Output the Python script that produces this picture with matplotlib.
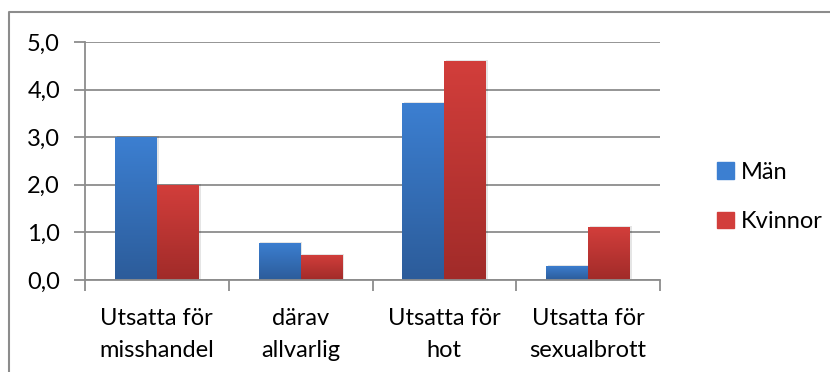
import numpy as np
import matplotlib
matplotlib.use("Agg")
from matplotlib import pyplot as plt
from matplotlib.ticker import FuncFormatter, FixedLocator
from matplotlib.colors import LinearSegmentedColormap
from matplotlib.lines import Line2D

plt.rcParams['font.family'] = ['Lato', 'DejaVu Sans']

categories = ["Utsatta för\nmisshandel", "därav\nallvarlig", "Utsatta för\nhot", "Utsatta för\nsexualbrott"]
man = [3.0, 0.78, 3.72, 0.30]
kvinnor = [2.0, 0.53, 4.6, 1.11]
series_names = ["Män", "Kvinnor"]

blue_top, blue_bot = "#3C7FD1", "#2C5C9A"
red_top, red_bot = "#D23E3B", "#A12B29"

fig = plt.figure(figsize=(8.3, 3.72), dpi=100)
ax = fig.add_axes([85/830, 92/372, 575/830, 238/372])

x = np.arange(len(categories))
w = 0.292

def grad_bars(xs, vals, top, bot):
    cmap = LinearSegmentedColormap.from_list("g", [bot, top])
    bars = ax.bar(xs, vals, w, color=top, linewidth=0, zorder=3)
    for b in bars:
        # soft drop shadow
        sh = plt.Rectangle((b.get_x() + 0.012, 0), b.get_width(), b.get_height() + 0.02,
                           color="#000000", alpha=0.10, zorder=2, linewidth=0)
        ax.add_patch(sh)
        img = ax.imshow(np.linspace(0, 1, 100).reshape(-1, 1), cmap=cmap, origin="lower",
                        extent=[b.get_x(), b.get_x() + b.get_width(), 0, b.get_height()],
                        aspect="auto", zorder=4)
        img.set_clip_path(b)
    return bars

grad_bars(x - w/2, man, blue_top, blue_bot)
grad_bars(x + w/2, kvinnor, red_top, red_bot)

ax.set_xlim(-0.5, len(categories) - 0.5)
ax.set_ylim(0, 5)
ax.set_yticks(np.arange(0, 6, 1))
ax.yaxis.set_major_formatter(FuncFormatter(lambda v, p: f"{v:.1f}".replace(".", ",")))
ax.grid(axis="y", color="#8c8c8c", linewidth=1.3, zorder=1)

ax.xaxis.set_major_locator(FixedLocator(np.arange(-0.5, len(categories), 1)))
ax.set_xticklabels([])
ax.tick_params(axis="x", length=8, width=1.3, color="#8c8c8c", direction="out")
ax.tick_params(axis="y", length=8, width=1.3, color="#8c8c8c", direction="out",
               labelsize=17, pad=10)
for s in ["top", "right"]:
    ax.spines[s].set_visible(False)
for s in ["left", "bottom"]:
    ax.spines[s].set_color("#8c8c8c")
    ax.spines[s].set_linewidth(1.3)
    ax.spines[s].set_zorder(5)

for i, c in enumerate(categories):
    ax.text(i, -0.58, c, ha="center", va="top", fontsize=17, linespacing=1.65,
            transform=ax.transData)

handles = [plt.Rectangle((0, 0), 1, 1, color=blue_top), plt.Rectangle((0, 0), 1, 1, color=red_top)]
fig.legend(handles, series_names, loc="center left", bbox_to_anchor=(696/830, 1 - 197/372),
           frameon=False, fontsize=17, handlelength=0.7, handleheight=0.7,
           handletextpad=0.3, labelspacing=1.2)

# chart border
fig.add_artist(Line2D([9/830, 9/830, 1], [0, 1 - 12/372, 1 - 12/372],
                      transform=fig.transFigure, color="#8c8c8c", linewidth=1.5))

fig.savefig("out.png", dpi=100)
